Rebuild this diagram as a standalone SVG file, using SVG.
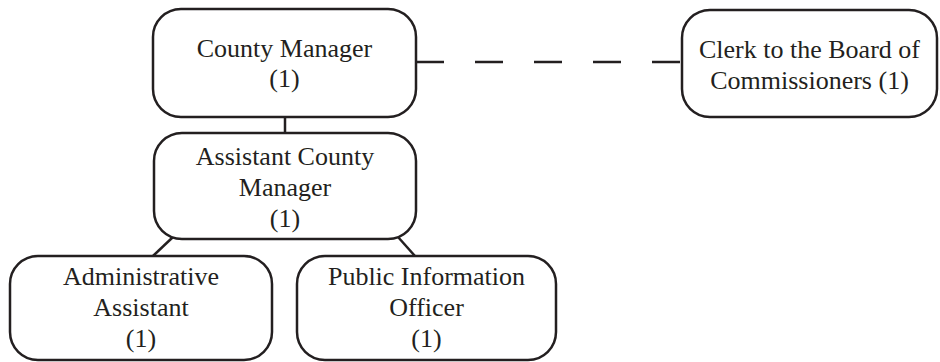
<svg xmlns="http://www.w3.org/2000/svg" width="940" height="362" viewBox="0 0 940 362">
<style>
.box{fill:#fff;stroke:#231f20;stroke-width:2.5}
.t{font-family:"Liberation Serif","Times New Roman",serif;font-size:26px;fill:#231f20;text-anchor:middle}
.c{stroke:#231f20;stroke-width:2.5;fill:none}
</style>
<rect width="940" height="362" fill="#fff"/>
<g id="connectors">
<line class="c" x1="285" y1="117" x2="285" y2="133"/>
<line class="c" x1="416" y1="62" x2="682" y2="62" stroke-dasharray="28 31"/>
<line class="c" x1="173" y1="237" x2="153" y2="256"/>
<line class="c" x1="398" y1="237" x2="415" y2="256"/>
</g>
<g id="county-manager">
<rect class="box" x="153" y="9" width="263" height="108" rx="28"/>
<text class="t" x="284.5" y="57">County Manager</text>
<text class="t" x="284.5" y="87">(1)</text>
</g>
<g id="clerk">
<rect class="box" x="682" y="10" width="255" height="107" rx="28"/>
<text class="t" x="809.5" y="58">Clerk to the Board of</text>
<text class="t" x="809.5" y="89">Commissioners (1)</text>
</g>
<g id="assistant-county-manager">
<rect class="box" x="154" y="133" width="262" height="106" rx="28"/>
<text class="t" x="285" y="165">Assistant County</text>
<text class="t" x="285" y="196">Manager</text>
<text class="t" x="285" y="227">(1)</text>
</g>
<g id="administrative-assistant">
<rect class="box" x="10" y="256" width="262" height="104" rx="28"/>
<text class="t" x="141" y="285">Administrative</text>
<text class="t" x="141" y="316">Assistant</text>
<text class="t" x="141" y="347">(1)</text>
</g>
<g id="public-information-officer">
<rect class="box" x="297" y="256" width="259" height="104" rx="28"/>
<text class="t" x="426.5" y="285">Public Information</text>
<text class="t" x="426.5" y="316">Officer</text>
<text class="t" x="426.5" y="347">(1)</text>
</g>
</svg>
